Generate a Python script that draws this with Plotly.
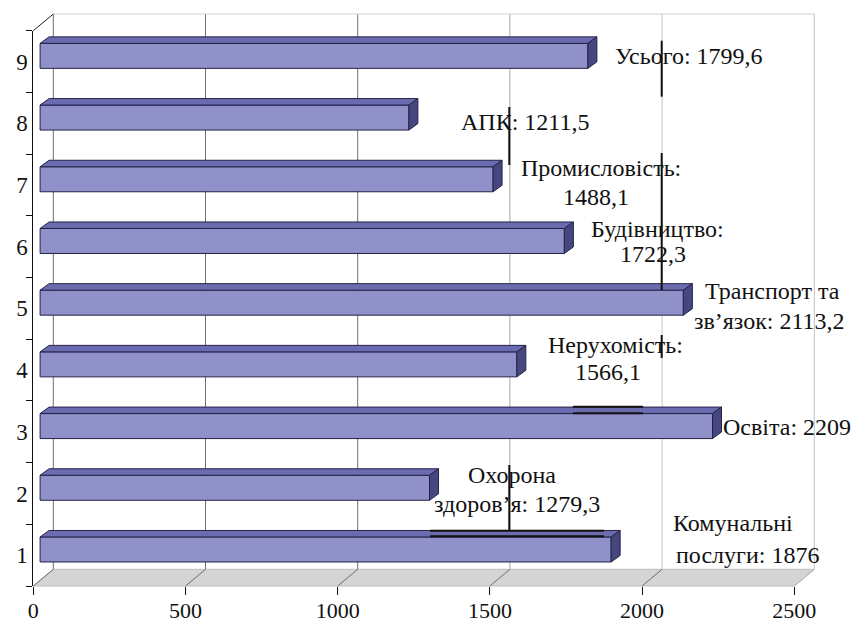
import plotly.graph_objects as go

# ---- data -------------------------------------------------------------
categories = ["1", "2", "3", "4", "5", "6", "7", "8", "9"]
sectors = [
    "Комунальні послуги",
    "Охорона здоров’я",
    "Освіта",
    "Нерухомість",
    "Транспорт та зв’язок",
    "Будівництво",
    "Промисловість",
    "АПК",
    "Усього",
]
values = [1876, 1279.3, 2209, 1566.1, 2113.2, 1722.3, 1488.1, 1211.5, 1799.6]
x_ticks = [0, 500, 1000, 1500, 2000, 2500]
# words kept on the first line of each label (0 = single line)
first_line_words = [1, 1, 0, 1, 2, 1, 1, 0, 0]

# ---- geometry of the pseudo-3D frame (pixels) --------------------------
W, H = 856, 625
X0 = 33.3          # front x position of value 0
Y0 = 586.0         # front floor line
S = 0.3044         # pixels per value unit
CH = 61.7          # pixels per category band
DEPTH_X, DEPTH_Y = 20.0, 16.7      # full depth offset of the back wall
BAR_D0 = 0.34                      # bars start this far into the depth
BAR_DX, BAR_DY = 9.0, 6.5          # thickness of top / side faces
BAR_H = 25.0                       # front face height

DXU = DEPTH_X / S
DYU = DEPTH_Y / CH
XMAX = x_ticks[-1]
NCAT = len(categories)

FONT = "Times New Roman, Liberation Serif, serif"
FRONT = "#9191C9"
TOP = "#6B6BAF"
SIDE = "#47477F"
EDGE = "#23234A"


def pt(v, h, d=0.0):
    """value/category point at depth d -> main-axis coordinates"""
    return v + d * DXU, h + d * DYU


def px2xy(px, py):
    return (px - X0) / S, (Y0 - py) / CH


def path(points):
    return "M " + " L ".join(f"{x},{y}" for x, y in points) + " Z"


fig = go.Figure()

# ---- floor and back wall ---------------------------------------------
shapes = []
shapes.append(dict(type="path", xref="x", yref="y", layer="below",
                   path=path([pt(0, 0, 0), pt(XMAX, 0, 0), pt(XMAX, 0, 1), pt(0, 0, 1)]),
                   fillcolor="#D4D4D4", line=dict(color="#BDBDBD", width=1)))
for g in x_ticks:
    col = "#6E6E6E" if g <= 1000 else ("#A8A8A8" if g == 1500 else "#C4C4C4")
    x1, y1 = pt(g, 0, 1)
    x2, y2 = pt(g, NCAT, 1)
    shapes.append(dict(type="line", xref="x", yref="y", layer="below",
                       x0=x1, y0=y1, x1=x2, y1=y2, line=dict(color=col, width=1)))
    fx, fy = pt(g, 0, 0)
    shapes.append(dict(type="line", xref="x", yref="y", layer="below",
                       x0=fx, y0=fy, x1=x1, y1=y1,
                       line=dict(color="#6E6E6E" if g < XMAX else "#B0B0B0", width=1)))
# top edge of back wall and left wall diagonal
tx0, ty0 = pt(0, NCAT, 1)
tx1, ty1 = pt(XMAX, NCAT, 1)
shapes.append(dict(type="line", xref="x", yref="y", layer="below",
                   x0=tx0, y0=ty0, x1=tx1, y1=ty1, line=dict(color="#D0D0D0", width=1)))
lx, ly = pt(0, NCAT, 0)
shapes.append(dict(type="line", xref="x", yref="y", layer="below",
                   x0=lx, y0=ly, x1=tx0, y1=ty0, line=dict(color="#222222", width=1)))

# ---- bars --------------------------------------------------------------
bar_base = BAR_D0 * DXU
bar_y = [i + 0.5 + BAR_D0 * DYU for i in range(NCAT)]
bh = BAR_H / CH
tdx, tdy = BAR_DX / S, BAR_DY / CH

fig.add_trace(go.Bar(
    x=values, y=bar_y, base=bar_base, orientation="h", width=bh,
    marker=dict(color=FRONT, line=dict(color=EDGE, width=1)),
    hoverinfo="skip", showlegend=False,
))

top_x, top_y, side_x, side_y = [], [], [], []
for v, yc in zip(values, bar_y):
    x_l, x_r = bar_base, bar_base + v
    yt, yb = yc + bh / 2, yc - bh / 2
    top_x += [x_l, x_r, x_r + tdx, x_l + tdx, x_l, None]
    top_y += [yt, yt, yt + tdy, yt + tdy, yt, None]
    side_x += [x_r, x_r + tdx, x_r + tdx, x_r, x_r, None]
    side_y += [yb, yb + tdy, yt + tdy, yt, yb, None]

fig.add_trace(go.Scatter(x=top_x, y=top_y, mode="lines", fill="toself",
                         fillcolor=TOP, line=dict(color=EDGE, width=1),
                         hoverinfo="skip", showlegend=False))
fig.add_trace(go.Scatter(x=side_x, y=side_y, mode="lines", fill="toself",
                         fillcolor=SIDE, line=dict(color=EDGE, width=1),
                         hoverinfo="skip", showlegend=False))

# ---- leader lines of the moved data labels ------------------------------
leaders = [
    ((661.7, 40.7), (661.7, 96.7)),
    ((661.7, 153.0), (661.7, 290.0)),
    ((661.7, 335.0), (661.7, 358.0)),
    ((509.3, 107.0), (509.3, 165.0)),
    ((509.3, 465.0), (509.3, 530.0)),
    ((573.0, 406.7), (643.0, 406.7)),
    ((573.0, 413.3), (643.0, 413.3)),
    ((430.0, 530.7), (604.0, 530.7)),
    ((430.0, 536.3), (604.0, 536.3)),
]
for (ax, ay), (bx, by) in leaders:
    a = px2xy(ax, ay)
    b = px2xy(bx, by)
    shapes.append(dict(type="line", xref="x", yref="y", layer="above",
                       x0=a[0], y0=a[1], x1=b[0], y1=b[1],
                       line=dict(color="#111111", width=2)))

# ---- data labels -------------------------------------------------------
label_pos = [
    [(733, 523), (747, 555)],
    [(512, 475), (516.5, 504)],
    [(787, 427)],
    [(615, 345), (607.5, 372)],
    [(772.5, 291), (769.5, 321)],
    [(657.5, 228.5), (653, 254)],
    [(601, 168), (595.5, 196.5)],
    [(525, 122)],
    [(689, 55.5)],
]
annotations = []
for name, v, nw, pos in zip(sectors, values, first_line_words, label_pos):
    words = f"{name}: {v:g}".replace(".", ",").split(" ")
    lines = [" ".join(words)] if nw == 0 else [" ".join(words[:nw]), " ".join(words[nw:])]
    for text, (cx, cy) in zip(lines, pos):
        x, y = px2xy(cx, cy)
        annotations.append(dict(x=x, y=y, xref="x", yref="y", text=text,
                                showarrow=False, xanchor="center", yanchor="middle",
                                font=dict(family=FONT, size=24, color="#111111")))

# ---- front axes (invisible helper trace so they are drawn) ---------------
fig.add_trace(go.Scatter(x=[0], y=[categories[0]], xaxis="x2", yaxis="y2",
                         mode="markers", marker=dict(opacity=0),
                         hoverinfo="skip", showlegend=False))

fig.update_layout(
    width=W, height=H,
    margin=dict(l=0, r=0, t=0, b=0, pad=0, autoexpand=False),
    paper_bgcolor="white", plot_bgcolor="rgba(0,0,0,0)",
    font=dict(family=FONT),
    shapes=shapes, annotations=annotations,
    xaxis=dict(range=[-X0 / S, (W - X0) / S], domain=[0, 1], visible=False,
               fixedrange=True, automargin=False),
    yaxis=dict(range=[(Y0 - H) / CH, Y0 / CH], domain=[0, 1], visible=False,
               fixedrange=True, automargin=False),
    xaxis2=dict(domain=[X0 / W, (X0 + XMAX * S) / W], range=[0, XMAX], anchor="y2",
                tickvals=x_ticks, ticktext=[str(t) for t in x_ticks],
                ticks="outside", ticklen=8, tickcolor="#111111", tickwidth=1,
                ticklabelstandoff=-3,
                showline=False, showgrid=False, zeroline=False, automargin=False,
                tickfont=dict(family=FONT, size=22, color="#111111")),
    yaxis2=dict(domain=[(H - Y0) / H, (H - Y0 + NCAT * CH) / H], range=[-0.5, NCAT - 0.5],
                anchor="x2", type="category", categoryorder="array", categoryarray=categories,
                tickson="boundaries", ticks="outside", ticklen=6, tickcolor="#111111",
                showline=True, linecolor="#111111", linewidth=1,
                showgrid=False, zeroline=False, automargin=False,
                tickfont=dict(family=FONT, size=23, color="#111111")),
)

fig.write_html("out.html")
